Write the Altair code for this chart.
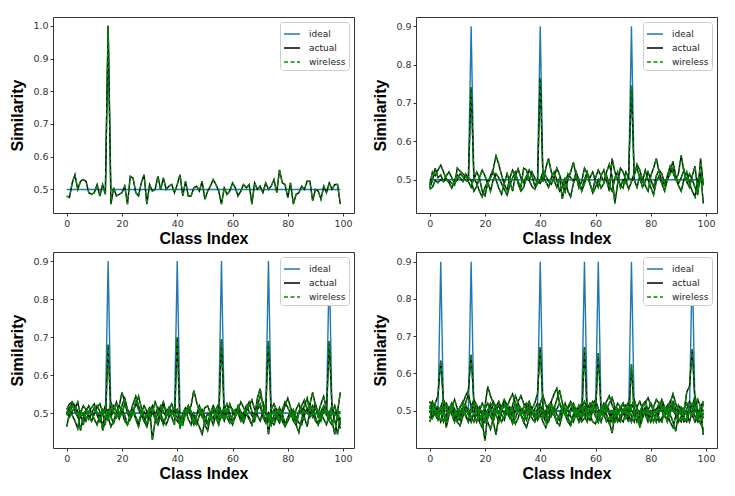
import altair as alt
import pandas as pd

# ---------------- data (similarity x 1000), class index 0..99 ----------------
X = list(range(100))
TYPES = ["ideal", "actual", "wireless"]
COLORS = ["#1f77b4", "#000000", "#009000"]
DASHES = [[1, 0], [1, 0], [4, 2.5]]
IDEAL_BASE = 500

# panel 1: one query
P1_SPIKES = [15]
P1_PEAK = 1000
P1_A = [480, 475, 520, 545, 500, 525, 530, 525, 490, 485, 490, 515, 480, 515, 485, 1000, 455, 505, 480, 485,
        490, 510, 455, 540, 535, 490, 480, 520, 545, 455, 515, 495, 500, 540, 500, 535, 500, 510, 515, 490,
        515, 545, 480, 525, 480, 480, 505, 510, 495, 525, 470, 495, 510, 530, 515, 495, 455, 505, 485, 495,
        520, 505, 480, 495, 515, 505, 515, 455, 520, 500, 510, 490, 520, 500, 510, 530, 490, 560, 520, 515,
        475, 520, 455, 485, 490, 510, 500, 525, 525, 465, 500, 495, 470, 510, 490, 520, 500, 515, 515, 455]

# panel 2: three queries
P2_SPIKES = [15, 40, 73]
P2_PEAK = 900
P2_A = [478, 498, 530, 505, 512, 495, 502, 498, 490, 485, 530, 522, 515, 508, 498, 740, 500, 520, 505, 470,
        458, 490, 510, 528, 562, 540, 512, 488, 472, 505, 525, 510, 495, 480, 530, 525, 498, 482, 475, 490,
        500, 520, 510, 495, 488, 505, 530, 512, 490, 468, 500, 520, 545, 510, 478, 495, 530, 515, 488, 470,
        505, 525, 510, 495, 520, 540, 508, 438, 490, 530, 520, 498, 475, 495, 510, 540, 525, 500, 485, 470,
        510, 530, 555, 520, 498, 485, 510, 535, 520, 500, 515, 563, 520, 495, 480, 510, 535, 470, 505, 490]
P2_B = [485, 520, 510, 525, 538, 520, 500, 492, 478, 500, 512, 505, 495, 515, 505, 498, 470, 482, 505, 525,
        510, 490, 505, 520, 500, 478, 462, 490, 515, 495, 470, 510, 528, 505, 492, 510, 498, 520, 505, 490,
        765, 495, 530, 555, 520, 498, 480, 505, 450, 490, 515, 505, 495, 520, 500, 470, 490, 515, 505, 520,
        495, 480, 510, 525, 498, 470, 555, 520, 500, 485, 478, 520, 505, 498, 515, 530, 505, 480, 495, 520,
        500, 480, 510, 525, 515, 490, 505, 520, 548, 510, 490, 505, 525, 495, 515, 500, 480, 460, 555, 485]
P2_C = [475, 480, 498, 492, 500, 495, 510, 520, 505, 490, 500, 515, 508, 498, 495, 480, 505, 490, 470, 455,
        480, 495, 470, 500, 515, 505, 490, 475, 460, 485, 505, 520, 490, 470, 480, 505, 525, 510, 485, 495,
        490, 510, 495, 480, 505, 520, 498, 470, 480, 505, 470, 455, 490, 510, 485, 475, 500, 520, 490, 465,
        480, 500, 478, 490, 510, 485, 470, 505, 520, 480, 500, 490, 515, 745, 500, 480, 510, 495, 525, 500,
        480, 460, 495, 510, 490, 470, 500, 515, 530, 505, 485, 470, 500, 520, 490, 470, 455, 500, 520, 438]

# panel 3: five queries
P3_SPIKES = [15, 40, 56, 73, 95]
P3_PEAK = 900
P3_A = [510, 525, 530, 505, 490, 500, 520, 510, 495, 480, 500, 515, 525, 505, 470, 680, 490, 510, 530, 495,
        520, 540, 510, 500, 525, 545, 520, 498, 505, 490, 515, 430, 480, 500, 520, 505, 490, 510, 525, 500,
        490, 470, 500, 515, 505, 520, 560, 530, 505, 490, 515, 520, 500, 485, 510, 525, 500, 480, 505, 520,
        510, 495, 520, 505, 490, 515, 530, 505, 490, 540, 565, 520, 500, 480, 510, 525, 505, 495, 510, 530,
        515, 500, 485, 510, 525, 500, 520, 540, 505, 490, 515, 500, 525, 545, 510, 500, 520, 495, 505, 555]
P3_B = [465, 500, 520, 510, 530, 495, 470, 505, 520, 500, 485, 470, 495, 510, 500, 480, 530, 505, 490, 520,
        555, 530, 500, 485, 510, 520, 545, 515, 490, 470, 505, 520, 495, 480, 510, 530, 500, 515, 490, 470,
        700, 460, 490, 505, 520, 500, 480, 470, 495, 510, 490, 475, 500, 520, 505, 480, 490, 510, 525, 500,
        480, 495, 515, 500, 485, 505, 520, 535, 510, 495, 480, 505, 520, 445, 495, 510, 490, 475, 500, 520,
        540, 515, 500, 480, 505, 520, 535, 510, 490, 505, 525, 500, 480, 510, 495, 485, 500, 520, 490, 460]
P3_C = [500, 515, 495, 480, 460, 505, 495, 510, 485, 500, 515, 495, 478, 500, 520, 490, 465, 480, 500, 485,
        510, 495, 470, 490, 505, 485, 465, 500, 520, 505, 485, 500, 530, 510, 490, 470, 495, 515, 505, 490,
        480, 470, 495, 510, 485, 470, 500, 480, 465, 445, 480, 500, 490, 470, 495, 480, 695, 490, 510, 485,
        470, 495, 510, 490, 475, 500, 485, 470, 495, 510, 520, 490, 475, 500, 470, 495, 510, 485, 500, 470,
        490, 505, 480, 470, 500, 515, 490, 465, 505, 520, 490, 470, 500, 485, 470, 500, 480, 445, 500, 505]
P3_D = [495, 510, 530, 520, 505, 490, 500, 480, 505, 515, 525, 500, 490, 470, 495, 510, 500, 520, 505, 490,
        500, 525, 510, 485, 500, 530, 510, 495, 480, 500, 515, 505, 485, 470, 495, 520, 510, 490, 500, 515,
        505, 480, 470, 500, 520, 505, 485, 495, 515, 500, 470, 455, 490, 510, 495, 515, 505, 485, 500, 525,
        505, 490, 510, 530, 515, 500, 490, 470, 495, 520, 545, 530, 505, 690, 490, 480, 500, 515, 495, 470,
        485, 505, 495, 470, 450, 485, 510, 500, 525, 555, 520, 490, 505, 520, 500, 480, 470, 495, 510, 470]
P3_E = [505, 490, 505, 520, 500, 455, 490, 505, 495, 480, 500, 520, 505, 455, 480, 505, 490, 475, 500, 520,
        505, 480, 470, 495, 510, 490, 475, 500, 480, 465, 490, 510, 495, 515, 500, 480, 470, 490, 505, 495,
        510, 490, 480, 500, 510, 490, 470, 495, 520, 500, 480, 470, 495, 510, 490, 470, 500, 515, 490, 475,
        495, 510, 500, 480, 500, 520, 505, 495, 480, 510, 525, 500, 485, 500, 480, 470, 490, 505, 480, 465,
        480, 495, 510, 490, 475, 470, 495, 510, 525, 500, 480, 470, 495, 515, 500, 690, 510, 480, 445, 490]

# panel 4: seven queries
P4_SPIKES = [4, 15, 40, 56, 61, 73, 95]
P4_PEAK = 900
P4_A = [525, 505, 520, 540, 635, 520, 505, 490, 510, 530, 505, 485, 500, 520, 545, 510, 490, 470, 500, 520,
        505, 480, 500, 525, 510, 490, 505, 520, 500, 485, 515, 540, 520, 505, 490, 510, 525, 500, 480, 505,
        520, 540, 515, 500, 485, 505, 530, 555, 520, 500, 480, 505, 520, 500, 485, 510, 525, 500, 490, 515,
        530, 505, 490, 510, 525, 540, 515, 500, 490, 505, 520, 500, 485, 510, 530, 505, 495, 515, 525, 500,
        490, 510, 530, 520, 500, 485, 510, 525, 500, 490, 515, 500, 485, 505, 525, 510, 540, 500, 485, 520]
P4_B = [480, 500, 515, 495, 470, 500, 520, 505, 490, 470, 495, 510, 520, 540, 555, 650, 520, 505, 480, 470,
        420, 490, 510, 470, 435, 485, 500, 520, 505, 490, 470, 500, 515, 490, 475, 500, 520, 505, 490, 480,
        505, 490, 475, 500, 520, 495, 470, 490, 510, 495, 480, 500, 515, 490, 470, 495, 510, 490, 475, 500,
        490, 470, 495, 510, 485, 465, 490, 505, 480, 470, 500, 515, 490, 470, 500, 485, 465, 490, 505, 480,
        500, 490, 470, 495, 510, 490, 470, 500, 515, 490, 470, 485, 505, 490, 470, 500, 510, 480, 465, 495]
P4_C = [500, 480, 495, 510, 500, 470, 490, 505, 520, 500, 480, 495, 510, 490, 470, 500, 515, 495, 475, 490,
        510, 565, 540, 520, 500, 490, 510, 530, 515, 500, 485, 505, 525, 540, 520, 500, 490, 505, 520, 545,
        670, 505, 490, 510, 525, 545, 560, 520, 500, 490, 505, 520, 500, 485, 505, 520, 500, 490, 510, 525,
        505, 490, 500, 520, 505, 490, 470, 500, 520, 510, 490, 505, 525, 500, 490, 510, 525, 505, 490, 500,
        520, 505, 490, 510, 530, 510, 495, 520, 545, 520, 500, 490, 505, 520, 500, 485, 505, 530, 510, 500]
P4_D = [470, 490, 505, 480, 500, 515, 455, 490, 505, 480, 470, 495, 510, 485, 470, 500, 515, 490, 470, 455,
        480, 500, 485, 470, 500, 515, 490, 475, 500, 510, 490, 465, 480, 505, 490, 475, 500, 480, 470, 495,
        510, 485, 470, 500, 515, 490, 470, 460, 490, 505, 480, 465, 490, 505, 490, 470, 670, 480, 495, 510,
        485, 470, 495, 510, 490, 470, 440, 490, 505, 480, 470, 495, 510, 485, 470, 500, 455, 480, 500, 490,
        470, 495, 505, 480, 470, 500, 515, 490, 470, 445, 490, 505, 480, 470, 500, 510, 485, 470, 495, 435]
P4_E = [510, 525, 500, 490, 510, 530, 510, 495, 515, 500, 490, 510, 525, 505, 490, 510, 530, 515, 500, 490,
        505, 520, 500, 490, 510, 525, 505, 490, 510, 530, 545, 520, 505, 490, 510, 520, 500, 490, 505, 520,
        500, 485, 500, 515, 500, 490, 505, 520, 505, 490, 510, 525, 505, 490, 510, 500, 490, 505, 520, 505,
        490, 655, 500, 490, 505, 520, 535, 510, 495, 505, 520, 500, 490, 510, 525, 505, 490, 510, 520, 535,
        515, 500, 490, 505, 520, 500, 490, 510, 525, 505, 490, 510, 500, 490, 505, 520, 505, 490, 510, 525]
P4_F = [495, 510, 490, 475, 500, 490, 470, 495, 510, 490, 470, 460, 485, 505, 490, 470, 495, 510, 490, 475,
        495, 470, 450, 480, 500, 490, 470, 485, 505, 490, 465, 480, 500, 490, 470, 455, 480, 500, 490, 475,
        490, 470, 455, 480, 500, 490, 470, 485, 500, 490, 470, 460, 485, 500, 490, 470, 480, 500, 490, 470,
        465, 490, 505, 490, 470, 480, 500, 490, 470, 485, 500, 490, 470, 625, 490, 470, 485, 500, 490, 470,
        490, 505, 490, 470, 480, 500, 490, 470, 455, 485, 500, 490, 470, 480, 500, 490, 470, 485, 500, 480]
P4_G = [505, 520, 500, 485, 510, 495, 480, 500, 520, 505, 490, 475, 500, 515, 500, 485, 470, 495, 510, 490,
        470, 500, 520, 505, 490, 470, 500, 515, 495, 480, 500, 520, 505, 490, 470, 495, 510, 500, 480, 495,
        515, 500, 480, 470, 495, 510, 490, 475, 500, 520, 500, 485, 470, 495, 515, 500, 485, 470, 500, 520,
        505, 490, 470, 495, 515, 500, 480, 470, 495, 510, 500, 480, 495, 515, 505, 490, 470, 495, 510, 500,
        485, 470, 500, 520, 505, 490, 475, 500, 515, 500, 480, 470, 495, 550, 565, 665, 520, 480, 500, 440]

PANELS = [
    (P1_SPIKES, P1_PEAK, [P1_A], [0.428, 1.027], [0.5, 0.6, 0.7, 0.8, 0.9, 1.0]),
    (P2_SPIKES, P2_PEAK, [P2_A, P2_B, P2_C], [0.413, 0.924], [0.5, 0.6, 0.7, 0.8, 0.9]),
    (P3_SPIKES, P3_PEAK, [P3_A, P3_B, P3_C, P3_D, P3_E], [0.409, 0.924], [0.5, 0.6, 0.7, 0.8, 0.9]),
    (P4_SPIKES, P4_PEAK, [P4_A, P4_B, P4_C, P4_D, P4_E, P4_F, P4_G], [0.400, 0.926], [0.5, 0.6, 0.7, 0.8, 0.9]),
]
X_TICKS = [0, 20, 40, 60, 80, 100]
X_DOMAIN = [-4.95, 103.95]


def make_df(spikes, peak, actual_series):
    rows = []
    for q, (k, act) in enumerate(zip(spikes, actual_series)):
        ideal = [IDEAL_BASE] * len(X)
        ideal[k] = peak
        for xi in X:
            rows.append({"q": q, "x": xi, "type": "ideal", "y": ideal[xi] / 1000})
            rows.append({"q": q, "x": xi, "type": "actual", "y": act[xi] / 1000})
            rows.append({"q": q, "x": xi, "type": "wireless", "y": act[xi] / 1000})
    return pd.DataFrame(rows)


def make_panel(spikes, peak, actual_series, ydom, yticks):
    df = make_df(spikes, peak, actual_series)
    base = alt.Chart(df).encode(
        x=alt.X("x:Q", scale=alt.Scale(domain=X_DOMAIN, nice=False, zero=False),
                axis=alt.Axis(values=X_TICKS, title="Class Index", format="d")),
        y=alt.Y("y:Q", scale=alt.Scale(domain=ydom, nice=False, zero=False),
                axis=alt.Axis(values=yticks, title="Similarity", format=".1f")),
        color=alt.Color("type:N", title=None, scale=alt.Scale(domain=TYPES, range=COLORS)),
        strokeDash=alt.StrokeDash("type:N", title=None, scale=alt.Scale(domain=TYPES, range=DASHES)),
        detail="q:N",
    )
    layers = [base.transform_filter(alt.datum.type == t).mark_line(strokeWidth=1.4) for t in TYPES]
    return alt.layer(*layers).properties(width=301, height=196)


panels = [make_panel(*p) for p in PANELS]

chart = (
    alt.concat(*panels, columns=2, spacing={"row": 4, "column": 17})
    .resolve_scale(color="independent", strokeDash="independent")
    .properties(padding={"left": 1, "top": 8, "right": 5, "bottom": 5})
    .configure_view(stroke="#333333", strokeWidth=1)
    .configure_axis(
        grid=False, domain=False,
        labelFont="DejaVu Sans", labelFontSize=9.5, labelColor="#333333",
        tickColor="#333333", tickSize=3, labelPadding=2,
        titleFont="Liberation Sans", titleFontSize=16, titleFontWeight="bold", titleColor="#000000",
    )
    .configure_axisX(titlePadding=3)
    .configure_axisY(titlePadding=7)
    .configure_legend(
        orient="top-right", offset=5, padding=3, fillColor="white", strokeColor="#cccccc",
        cornerRadius=3, symbolType="stroke", symbolSize=256, symbolStrokeWidth=1.5,
        labelFont="DejaVu Sans", labelFontSize=9, labelColor="#222222", labelOffset=8,
        rowPadding=-1,
    )
)

chart.save("out.html", embed_options={"renderer": "svg", "actions": False})
